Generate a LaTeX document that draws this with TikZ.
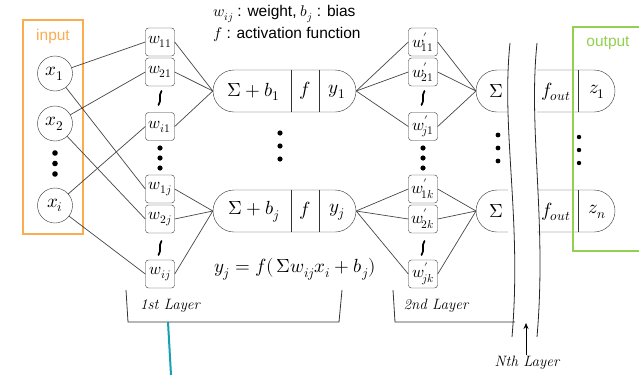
\documentclass[tikz,border=0pt]{standalone}
\usepackage{fontspec}
\usepackage{unicode-math}
\setmathfont{Latin Modern Math}
\setsansfont{Liberation Sans}
\usetikzlibrary{shapes.misc,arrows.meta}
\definecolor{inorange}{RGB}{251,172,78}
\definecolor{outgreen}{RGB}{146,208,80}
\definecolor{tealline}{RGB}{22,160,178}
\definecolor{conn}{RGB}{70,70,70}
\begin{document}
\begin{tikzpicture}[x=1pt,y=-1pt,
  wbox/.style={draw=black!80,rounded corners=3pt,minimum width=29pt,minimum height=28pt,inner sep=0pt,font=\fontsize{16.5}{18}\selectfont},
  incirc/.style={draw=black!80,circle,minimum size=35pt,inner sep=0pt,font=\fontsize{19}{21}\selectfont},
  neuron/.style={draw=black!80,rounded rectangle,minimum width=143pt,minimum height=42pt,inner sep=0pt},
  ntext/.style={font=\fontsize{19}{22}\selectfont,inner sep=0pt},
  cline/.style={draw=conn,line width=0.7pt},
  lay/.style={font=\fontsize{15}{17}\selectfont\itshape,inner sep=0pt},
  sanslab/.style={font=\sffamily\fontsize{15.5}{18}\selectfont,inner sep=0pt},
  wrpath/.style={line width=1.7pt,line cap=round}
]
\useasboundingbox (0,0) rectangle (639,375);

% input box
\draw[inorange,line width=2.5pt] (23,20) rectangle (83,234);
\node[inorange,sanslab] (inlab) at (53,36) {input};
\node[incirc] (x1) at (55,73.5) {$x_1$};
\node[incirc] (x2) at (55,123.5) {$x_2$};
\node[incirc] (xi) at (55,205.5) {$x_i$};
\foreach \yy in {153,163.5,174} \fill (55,\yy) circle (2.8pt);

% first layer weights
\node[wbox] (w11) at (160,42) {$w_{11}$};
\node[wbox] (w21) at (160,72) {$w_{21}$};
\draw[wrpath] (161.5,91) .. controls (158,96) and (162,100) .. (158.5,105);
\node[wbox] (wi1) at (160,126.5) {$w_{i1}$};
\node[wbox] (w1j) at (160,189) {$w_{1j}$};
\node[wbox] (w2j) at (160,219) {$w_{2j}$};
\draw[wrpath] (161.5,241) .. controls (158,246) and (162,250) .. (158.5,255);
\node[wbox] (wij) at (160,274) {$w_{ij}$};
\foreach \yy in {148,158,168} \fill (160,\yy) circle (2.6pt);

\draw[cline] (x1) -- (w11.west);
\draw[cline] (x1) -- (w1j.west);
\draw[cline] (x2) -- (w21.west);
\draw[cline] (x2) -- (w2j.west);
\draw[cline] (xi) -- (wi1.west);
\draw[cline] (xi) -- (wij.west);

% neurons
\node[neuron] (n1) at (284.5,91) {};
\node[neuron] (n2) at (284.5,211) {};
\draw[black!80] (291,70) -- (291,112) (319,70) -- (319,112);
\draw[black!80] (291,190) -- (291,232) (319,190) -- (319,232);
\node[ntext] (s1t) at (254,92) {$\Sigma + b_1$};
\node[ntext] (f1t) at (305,91) {$f$};
\node[ntext] (y1t) at (337,92) {$y_1$};
\node[ntext] (s2t) at (254,212) {$\Sigma + b_j$};
\node[ntext] (f2t) at (305,211) {$f$};
\node[ntext] (y2t) at (337,212) {$y_j$};
\foreach \yy in {133,146,159} \fill (280,\yy) circle (2.6pt);

\foreach \w in {w11,w21,wi1} \draw[cline] (\w.east) -- (n1.west);
\foreach \w in {w1j,w2j,wij} \draw[cline] (\w.east) -- (n2.west);

% top text
\node[anchor=west,sanslab] (leg1) at (213,14) {$w_{ij}$ : weight, $b_j$ : bias};
\node[anchor=west,sanslab] (leg2) at (213,34) {$f$ : activation function};

% equation
\node[ntext] (eq) at (295,269) {$y_j = f(\,\Sigma w_{ij}x_i + b_j)$};

% first layer bracket
\draw[black!80,line width=0.8pt] (126,290) -- (128,322) -- (339,322) -- (342,290);
\node[lay] (l1) at (170,306) {1st Layer};
\draw[tealline,line width=2pt] (168,322) -- (171,375);

% second layer weights
\node[wbox] (v11) at (423,42) {$w'_{\!11}$};
\node[wbox] (v21) at (423,72) {$w'_{\!21}$};
\draw[wrpath] (424.5,91) .. controls (421,96) and (425,100) .. (421.5,105);
\node[wbox] (vj1) at (423,126.5) {$w'_{\!j1}$};
\node[wbox] (v1k) at (423,189) {$w'_{\!1k}$};
\node[wbox] (v2k) at (423,219) {$w'_{\!2k}$};
\draw[wrpath] (424.5,241) .. controls (421,246) and (425,250) .. (421.5,255);
\node[wbox] (vjk) at (423,274) {$w'_{\!jk}$};
\foreach \yy in {148,158,168} \fill (423,\yy) circle (2.6pt);

\foreach \w in {v11,v21,vj1} \draw[cline] (n1.east) -- (\w.west);
\foreach \w in {v1k,v2k,vjk} \draw[cline] (n2.east) -- (\w.west);

% sigma pieces
\coordinate (sg1) at (476,91);
\coordinate (sg2) at (476,211);
\draw[black!80] (508,70) -- (497,70) arc[start angle=270,end angle=90,radius=21] -- (508,112);
\draw[black!80] (508,190) -- (497,190) arc[start angle=270,end angle=90,radius=21] -- (508,232);
\node[ntext] (sig1) at (496,91) {$\Sigma$};
\node[ntext] (sig2) at (496,211) {$\Sigma$};
\foreach \yy in {135,148,161} \fill (498,\yy) circle (2.4pt);
\foreach \w in {v11,v21,vj1} \draw[cline] (\w.east) -- (sg1);
\foreach \w in {v1k,v2k,vjk} \draw[cline] (\w.east) -- (sg2);

% second layer bracket
\draw[black!80,line width=0.8pt] (393,290) -- (395,322) -- (515,322);
\node[lay] (l2) at (436,306) {2nd Layer};

% output pieces
\draw[black!80] (537,70) -- (594,70) arc[start angle=270,end angle=450,radius=21] -- (537,112);
\draw[black!80] (537,190) -- (594,190) arc[start angle=270,end angle=450,radius=21] -- (537,232);
\draw[black!80] (578,70) -- (578,112) (578,190) -- (578,232);
\node[ntext] (fo1) at (556,92) {$f_{out}$};
\node[ntext] (z1) at (597,92) {$z_1$};
\node[ntext] (fo2) at (556,212) {$f_{out}$};
\node[ntext] (zn) at (597,212) {$z_n$};
\foreach \yy in {137,150,163} \fill (579,\yy) circle (2.2pt);

% break curves
\draw[black!85,line width=0.8pt] (510,43) .. controls (501,130) and (522,220) .. (512,337);
\draw[black!85,line width=0.8pt] (537,43) .. controls (528,130) and (547,220) .. (537,337);

% Nth layer arrow
\coordinate (ntip) at (526,323);
\node[lay] (ln) at (527,363) {Nth Layer};
\draw[black,line width=0.8pt,-{Stealth[length=6pt,width=5pt]}] (526,355) -- (ntip);

% output box
\draw[outgreen,line width=2.5pt] (645,27) -- (573,27) -- (573,251) -- (645,251);
\node[outgreen,sanslab] (outlab) at (608,43) {output};
\end{tikzpicture}
\end{document}
